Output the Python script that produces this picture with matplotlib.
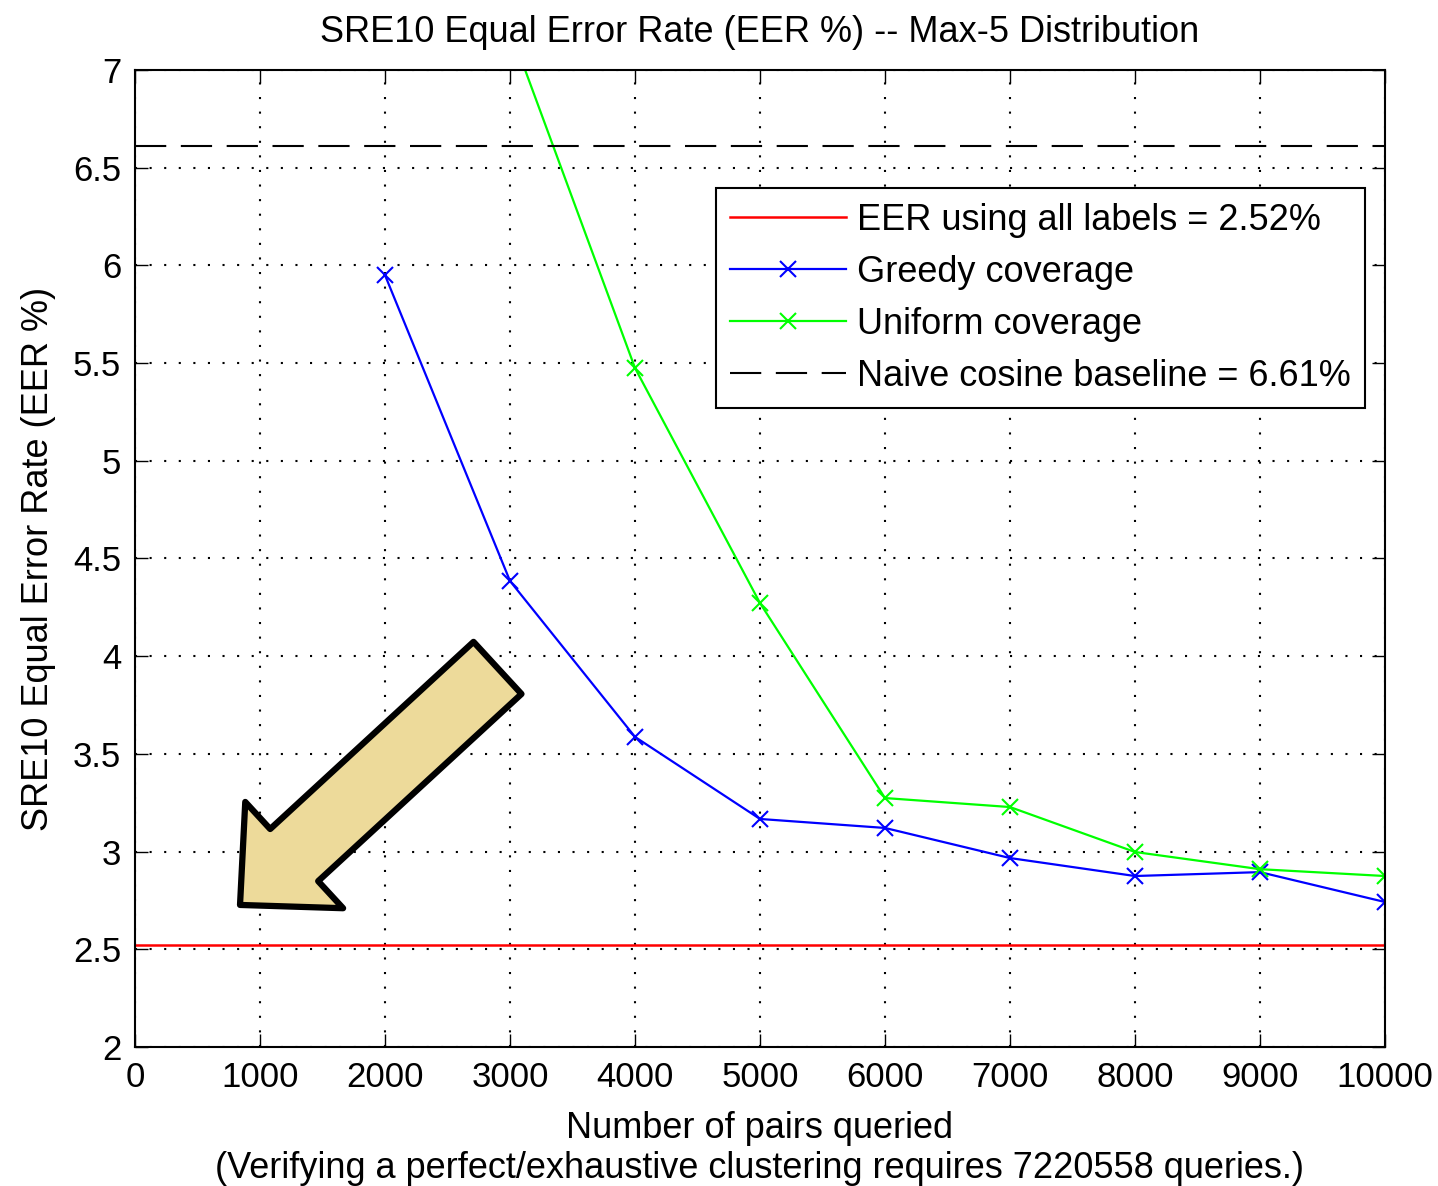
import matplotlib
matplotlib.use("Agg")
import matplotlib.pyplot as plt

plt.rcParams["font.family"] = ["Liberation Sans", "DejaVu Sans"]

# data
queries = [2000, 3000, 4000, 5000, 6000, 7000, 8000, 9000, 10000]
greedy_eer = [5.95, 4.385, 3.587, 3.167, 3.121, 2.967, 2.875, 2.895, 2.742]
uniform_x = [3000, 4000, 5000, 6000, 7000, 8000, 9000, 10000]
uniform_eer = [7.21, 5.475, 4.272, 3.274, 3.228, 2.998, 2.91, 2.875]
all_labels_eer = 2.52
naive_eer = 6.61

FS = 26

fig = plt.figure(figsize=(14.38, 11.86), dpi=100)
ax = fig.add_axes([0.0939, 0.1172, 0.8692, 0.8238])

ax.axhline(all_labels_eer, color="#ff0000", lw=1.8,
           label="EER using all labels = 2.52%")
ax.plot(queries, greedy_eer, color="#0000ff", lw=1.6, marker="x", ms=11, mew=1.5,
        label="Greedy coverage")
ax.plot(uniform_x, uniform_eer, color="#00ff00", lw=1.6, marker="x", ms=11, mew=1.5,
        label="Uniform coverage")
ax.axhline(naive_eer, color="black", lw=1.5, ls=(0, (15, 7)),
           label="Naive cosine baseline = 6.61%")

ax.set_xlim(0, 10000)
ax.set_ylim(2, 7)
ax.set_xticks(range(0, 10001, 1000))
ax.set_yticks([2, 2.5, 3, 3.5, 4, 4.5, 5, 5.5, 6, 6.5, 7])
ax.set_yticklabels(["2", "2.5", "3", "3.5", "4", "4.5", "5", "5.5", "6", "6.5", "7"])
ax.tick_params(direction="in", top=True, right=True, length=9.5, width=1,
               labelsize=25, pad=10)
ax.grid(True, color="black", ls=(0, (1, 6)), lw=1.5)
ax.set_axisbelow(True)
for s in ax.spines.values():
    s.set_linewidth(1.5)

ax.set_title("SRE10 Equal Error Rate (EER %) -- Max-5 Distribution",
             fontsize=FS, pad=20)
ax.set_xlabel("Number of pairs queried\n(Verifying a perfect/exhaustive clustering requires 7220558 queries.)",
              fontsize=FS, linespacing=1.2, labelpad=12)
ax.set_ylabel("SRE10 Equal Error Rate (EER %)", fontsize=FS, labelpad=12)

leg = ax.legend(loc="upper right", bbox_to_anchor=(0.984, 0.879), borderaxespad=0,
                fontsize=FS, handlelength=3.2, handletextpad=0.3,
                labelspacing=0.47, fancybox=False, framealpha=1,
                edgecolor="black", borderpad=0.4)
leg.get_frame().set_linewidth(1.5)

# highlight arrow pointing at the all-labels line
ax.annotate("", xy=(840, 2.727), xytext=(2900, 3.94),
            arrowprops=dict(arrowstyle="simple,head_length=5.3,head_width=10.4,tail_width=5.1",
                            mutation_scale=10, fc="#edda9a", ec="black", lw=4.5,
                            shrinkA=0, shrinkB=0), zorder=5)

fig.savefig("out.png", dpi=100)
